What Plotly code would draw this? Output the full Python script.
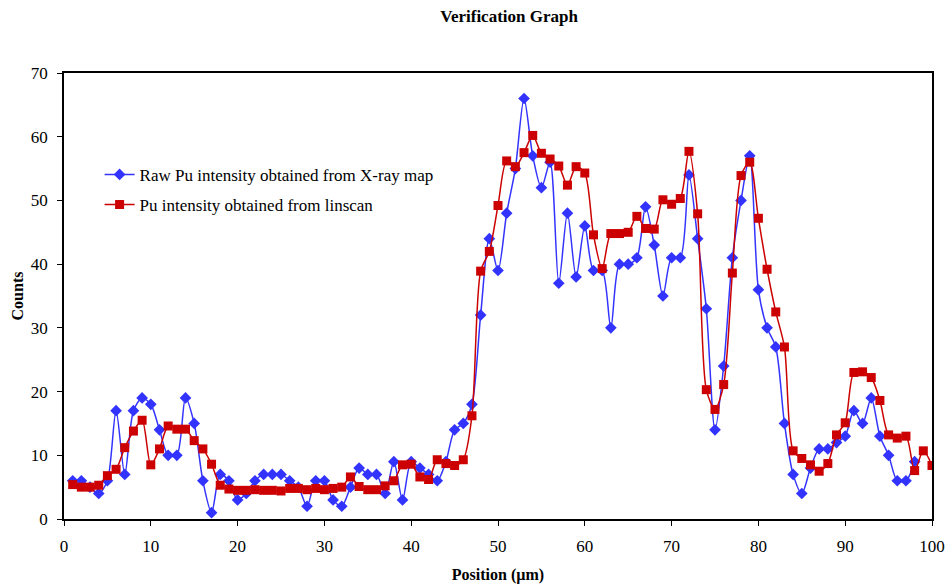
import plotly.graph_objects as go

positions_red = list(range(1, 101))
positions_blue = list(range(1, 99))

raw_pu = [6, 6, 5, 4, 6, 17, 7, 17, 19, 18,
          14, 10, 10, 19, 15, 6, 1, 7, 6, 3,
          4, 6, 7, 7, 7, 6, 5, 2, 6, 6,
          3, 2, 5, 8, 7, 7, 4, 9, 3, 9,
          8, 7, 6, 9, 14, 15, 18, 32, 44, 39,
          48, 55, 66, 57, 52, 56, 37, 48, 38, 46,
          39, 39, 30, 40, 40, 41, 49, 43, 35, 41,
          41, 54, 44, 33, 14, 24, 41, 50, 57, 36,
          30, 27, 15, 7, 4, 8, 11, 11, 12, 13,
          17, 15, 19, 13, 10, 6, 6, 9]

linescan_pu = [5.4, 5.0, 5.0, 5.3, 6.8, 7.8, 11.2, 13.8, 15.5, 8.5,
               11.0, 14.6, 14.1, 14.1, 12.3, 11.0, 8.6, 5.3, 4.7, 4.5,
               4.5, 4.6, 4.5, 4.5, 4.4, 4.8, 4.8, 4.6, 4.8, 4.6,
               4.8, 5.0, 6.6, 5.1, 4.6, 4.6, 5.2, 6.0, 8.5, 8.6,
               6.6, 6.2, 9.3, 8.7, 8.4, 9.3, 16.2, 38.9, 42.0, 49.2,
               56.2, 55.3, 57.5, 60.2, 57.4, 56.5, 55.4, 52.4, 55.3, 54.3,
               44.6, 39.3, 44.8, 44.8, 45.0, 47.5, 45.6, 45.5, 50.1, 49.4,
               50.3, 57.7, 47.9, 20.3, 17.2, 21.1, 38.6, 53.9, 56.0, 47.2,
               39.2, 32.5, 27.0, 10.7, 9.5, 8.5, 7.5, 8.7, 13.2, 15.1,
               23.0, 23.1, 22.2, 18.6, 13.2, 12.7, 13.0, 7.6, 10.7, 8.4]

x_ticks = list(range(0, 101, 10))
y_ticks = list(range(0, 71, 10))

FONT = "Liberation Serif, Times New Roman, serif"

fig = go.Figure()
fig.add_trace(go.Scatter(
    x=positions_blue, y=raw_pu, mode="lines+markers",
    name="Raw Pu intensity obtained from X-ray map", legendgroup="raw",
    line=dict(color="#3333FF", width=1.5, shape="spline", smoothing=0.8),
    marker=dict(symbol="diamond", size=9, color="#3333FF"),
))
fig.add_trace(go.Scatter(
    x=positions_red, y=linescan_pu, mode="lines+markers",
    name="Pu intensity obtained from linscan", legendgroup="lin",
    line=dict(color="#CC0000", width=1.5, shape="spline", smoothing=0.8),
    marker=dict(symbol="square", size=9, color="#CC0000"),
))

fig.update_layout(
    width=948, height=586,
    margin=dict(l=64, r=16, t=73, b=67, autoexpand=False),
    paper_bgcolor="white", plot_bgcolor="white",
    font=dict(family=FONT, size=17, color="black"),
    title=dict(text="<b>Verification Graph</b>", x=0.537, xanchor="center",
               y=0.982, yanchor="top", font=dict(family=FONT, size=17)),
    legend=dict(x=0.041, y=0.812, xanchor="left", yanchor="top",
                bgcolor="rgba(0,0,0,0)", font=dict(family=FONT, size=17),
                tracegroupgap=5, itemwidth=30),
    showlegend=True,
)
fig.update_xaxes(
    range=[0, 100], tickvals=x_ticks, showgrid=False, zeroline=False,
    showline=True, linecolor="black", linewidth=1.5, mirror=True,
    ticks="outside", ticklen=5, tickcolor="black", automargin=False,
    ticklabelstandoff=6,
    title=dict(text="<b>Position (µm)</b>", font=dict(family=FONT, size=16), standoff=14),
    tickfont=dict(family=FONT, size=17),
)
fig.update_yaxes(
    range=[0, 70], tickvals=y_ticks, showgrid=False, zeroline=False,
    showline=True, linecolor="black", linewidth=1.5, mirror=True,
    ticks="outside", ticklen=5, tickcolor="black", automargin=False,
    ticklabelstandoff=6,
    title=dict(text="<b>Counts</b>", font=dict(family=FONT, size=16), standoff=3),
    tickfont=dict(family=FONT, size=17),
)

fig.write_html("out.html")
